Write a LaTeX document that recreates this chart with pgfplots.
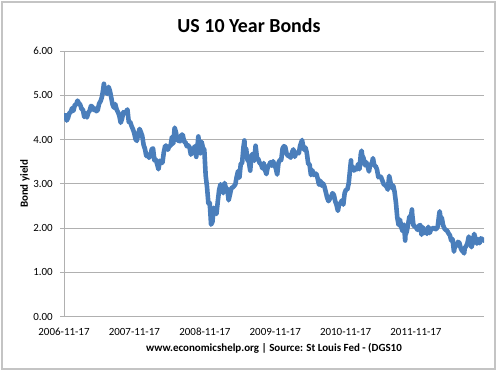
\documentclass[border=0pt]{standalone}
\usepackage{fontspec}
\setmainfont{Carlito}
\usepackage{pgfplots}
\usepackage{pgfplotstable}
\pgfplotsset{compat=1.18}
\definecolor{series}{HTML}{4A7EBB}
\definecolor{gridc}{HTML}{B0B0B0}
\definecolor{framec}{HTML}{C4C4C4}
\pgfplotstableread{
x y
0 4.54
7 4.55
14 4.43
21 4.49
28 4.60
35 4.62
42 4.71
49 4.65
56 4.78
63 4.79
70 4.88
77 4.82
84 4.79
91 4.69
98 4.68
105 4.51
112 4.59
119 4.50
126 4.61
133 4.65
140 4.76
147 4.74
154 4.67
161 4.70
168 4.64
175 4.67
182 4.81
189 4.86
196 4.95
203 5.12
207 5.26
210 5.16
217 5.14
224 5.03
231 5.19
238 5.10
245 4.95
252 4.79
259 4.72
266 4.80
273 4.68
280 4.62
287 4.54
294 4.38
301 4.47
308 4.62
315 4.59
322 4.63
329 4.68
336 4.40
343 4.40
350 4.31
357 4.24
364 4.15
371 4.01
378 3.97
385 4.12
392 4.24
399 4.17
406 4.08
413 3.88
420 3.79
427 3.63
434 3.66
441 3.59
448 3.64
455 3.78
462 3.80
469 3.53
476 3.55
483 3.45
490 3.33
497 3.52
504 3.47
511 3.48
518 3.72
525 3.86
532 3.86
539 3.77
546 3.85
553 3.86
560 4.06
567 3.91
574 4.27
581 4.16
588 3.98
595 3.98
602 3.96
609 4.11
616 4.11
623 3.95
630 3.94
637 3.85
644 3.87
651 3.83
658 3.66
665 3.72
672 3.78
679 3.85
686 3.61
693 3.87
697 4.07
700 3.94
707 3.69
714 3.95
721 3.81
728 3.77
735 3.19
742 2.93
749 2.56
756 2.57
763 2.08
770 2.14
777 2.46
784 2.40
791 2.32
798 2.61
805 2.87
812 2.99
819 2.89
826 2.79
833 3.02
840 2.90
847 2.89
854 2.63
861 2.76
868 2.90
875 2.92
882 2.95
889 2.99
896 3.16
903 3.29
910 3.14
917 3.45
924 3.47
931 3.83
936 3.98
938 3.79
945 3.79
952 3.54
959 3.50
966 3.30
973 3.64
980 3.68
987 3.52
994 3.86
1001 3.59
1008 3.56
1015 3.47
1022 3.45
1029 3.35
1036 3.47
1043 3.31
1050 3.22
1057 3.38
1064 3.42
1071 3.49
1078 3.41
1085 3.51
1092 3.42
1099 3.35
1106 3.21
1113 3.48
1120 3.54
1127 3.54
1134 3.80
1141 3.85
1148 3.83
1155 3.68
1162 3.63
1169 3.63
1176 3.59
1183 3.71
1190 3.78
1197 3.61
1204 3.69
1211 3.71
1218 3.69
1225 3.86
1232 3.95
1235 3.99
1239 3.89
1246 3.77
1253 3.82
1260 3.69
1267 3.45
1274 3.44
1281 3.20
1288 3.31
1295 3.20
1302 3.23
1309 3.23
1316 3.12
1323 2.98
1330 3.07
1337 2.96
1344 3.01
1351 2.94
1358 2.82
1365 2.69
1372 2.61
1379 2.66
1386 2.71
1393 2.79
1400 2.75
1407 2.61
1414 2.52
1421 2.39
1428 2.56
1435 2.56
1442 2.63
1449 2.53
1456 2.79
1463 2.87
1470 2.87
1477 3.01
1484 3.32
1489 3.53
1491 3.33
1498 3.39
1505 3.30
1512 3.34
1519 3.33
1526 3.45
1533 3.33
1540 3.68
1544 3.75
1547 3.64
1554 3.58
1561 3.42
1568 3.49
1575 3.40
1582 3.28
1589 3.44
1596 3.45
1603 3.58
1610 3.41
1617 3.40
1624 3.32
1631 3.15
1638 3.17
1645 3.15
1652 3.07
1659 2.99
1666 2.97
1673 2.94
1680 2.87
1687 3.18
1694 3.03
1701 2.91
1708 2.96
1715 2.82
1722 2.58
1729 2.24
1736 2.07
1743 2.19
1750 2.02
1757 1.93
1764 2.08
1770 1.72
1771 1.84
1778 1.92
1785 2.08
1792 2.26
1799 2.23
1805 2.42
1806 2.34
1813 2.06
1820 2.04
1827 2.01
1834 1.96
1841 2.05
1848 2.07
1855 1.85
1862 2.02
1869 1.89
1876 1.96
1883 1.87
1890 2.03
1897 1.89
1904 1.97
1911 1.99
1918 2.01
1925 1.98
1932 1.98
1939 2.04
1946 2.30
1949 2.38
1953 2.25
1960 2.23
1967 2.06
1974 1.99
1981 1.96
1988 1.94
1995 1.88
2002 1.84
2009 1.72
2016 1.75
2023 1.47
2030 1.64
2037 1.60
2044 1.69
2051 1.67
2058 1.55
2065 1.49
2072 1.46
2076 1.43
2079 1.55
2086 1.59
2093 1.66
2100 1.81
2107 1.69
2114 1.57
2121 1.68
2128 1.87
2135 1.76
2142 1.65
2149 1.75
2156 1.66
2163 1.77
2170 1.75
2177 1.72
}\bonds
\begin{document}
\begin{tikzpicture}[x=1bp,y=1bp]
\useasboundingbox (0,0) rectangle (500,371);
\draw[framec, line width=1.5bp] (2,2) rectangle (495,369);
\node[font=\bfseries\fontsize{20}{24}\selectfont] at (249,345.5) {US 10 Year Bonds};
\begin{axis}[
  at={(64bp,54.3bp)}, anchor=south west,
  scale only axis, width=420bp, height=265.7bp,
  xmin=0, xmax=2179, ymin=0, ymax=6,
  axis lines*=left,
  axis line style={draw=gridc, line width=0.9bp},
  ymajorgrids, grid style={draw=gridc, line width=0.9bp},
  ytick={0,1,2,3,4,5,6},
  xtick={0,365,731,1096,1461,1826},
  xticklabels={2006-11-17,2007-11-17,2008-11-17,2009-11-17,2010-11-17,2011-11-17},
  tick align=outside,
  ytick style={draw=gridc, line width=0.9bp},
  /pgf/number format/fixed,
  /pgf/number format/fixed zerofill,
  /pgf/number format/precision=2,
  /pgf/number format/assume math mode=true,
  major tick length=4bp,
  x tick style={draw=none},
  tick label style={font=\fontsize{11}{13}\selectfont, text=black},
  yticklabel style={anchor=east, inner sep=0pt, xshift=-7bp},
  xticklabel style={anchor=north, inner sep=0pt, yshift=-7bp},
  ylabel={Bond yield},
  ylabel style={font=\bfseries\fontsize{11}{13}\selectfont, at={(axis description cs:-0.093,0.5)}, anchor=center},
  xlabel={www.economicshelp.org | Source: St Louis Fed - (DGS10},
  xlabel style={font=\bfseries\fontsize{11}{13}\selectfont, at={(axis description cs:0.5,-0.1178)}, anchor=center},
]
\addplot[series, line width=4.6bp, line join=round, line cap=round] table[x=x, y=y] {\bonds};
\end{axis}
\end{tikzpicture}
\end{document}
